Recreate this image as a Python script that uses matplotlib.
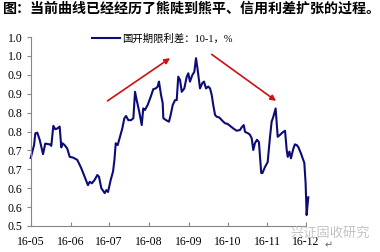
import numpy as np
import pandas as pd
import matplotlib
matplotlib.use('Agg')
import matplotlib.pyplot as plt
import matplotlib.dates as mdates


# ----------- DATA -----------
# days since 2016-05-01 and the 10y-1y CDB term spread (%)
start = '2016-05-01'
days = [0, 2.6, 3.6, 5.1, 7.0, 9.6, 11.3, 14.8, 16.0, 17.6, 19.1, 20.7, 22.5, 23.8, 24.6,
        26.4, 28.4, 30.3, 32.9, 36.2, 39.3, 42.0, 44.5, 45.9, 47.6, 49.7, 51.8, 53.1, 54.9,
        57.5, 58.8, 60.1, 62.2, 64.0, 65.1, 66.1, 67.6, 69.4, 71.2, 72.8, 74.1, 75.9, 78.0,
        79.8, 81.1, 82.4, 84.4, 86.3, 87.5, 88.8, 90.9, 93.3, 95.3, 97.2, 98.7, 99.7, 101.3,
        102.6, 103.1, 105.7, 107.5, 108.8, 110.4, 112.2, 113.5, 114.7, 116.1, 117.4, 119.4,
        121.3, 122.5, 123.8, 125.6, 127.2, 128.5, 129.8, 131.6, 133.4, 134.7, 136.3, 138.0,
        139.4, 140.7, 141.9, 143.3, 144.6, 146.6, 148.5, 149.7, 151.0, 153.1, 154.9, 157.5,
        160.1, 162.7, 164.0, 165.6, 166.6, 167.9, 169.1, 170.5, 171.8, 173.0, 174.3, 175.9,
        177.4, 179.2, 180.1, 182.1, 184.2, 186.0, 187.3, 188.6, 190.4, 192.0, 193.8, 195.6,
        197.7, 199.0, 199.8, 201.1, 202.3, 204.1, 205.4, 206.8, 208.0, 210.1, 211.4, 212.7,
        213.7, 214.5, 215.3, 215.8]
spread = [0.680, 0.714, 0.745, 0.747, 0.728, 0.690, 0.718, 0.716, 0.712, 0.765, 0.756, 0.758,
          0.763, 0.708, 0.719, 0.714, 0.705, 0.683, 0.681, 0.675, 0.653, 0.630, 0.608, 0.617,
          0.613, 0.622, 0.635, 0.630, 0.600, 0.587, 0.595, 0.590, 0.622, 0.644, 0.675, 0.719,
          0.714, 0.736, 0.758, 0.785, 0.791, 0.780, 0.780, 0.785, 0.855, 0.833, 0.802, 0.767,
          0.811, 0.807, 0.820, 0.842, 0.862, 0.864, 0.869, 0.882, 0.847, 0.825, 0.785, 0.779,
          0.776, 0.794, 0.820, 0.833, 0.833, 0.895, 0.886, 0.855, 0.864, 0.895, 0.904, 0.882,
          0.899, 0.908, 0.944, 0.913, 0.864, 0.878, 0.882, 0.864, 0.869, 0.864, 0.847, 0.820,
          0.794, 0.789, 0.787, 0.780, 0.776, 0.772, 0.770, 0.765, 0.758, 0.752, 0.754, 0.761,
          0.767, 0.749, 0.747, 0.745, 0.741, 0.732, 0.701, 0.719, 0.728, 0.722, 0.640, 0.640,
          0.656, 0.669, 0.735, 0.776, 0.789, 0.811, 0.736, 0.741, 0.747, 0.752, 0.701, 0.683,
          0.697, 0.679, 0.704, 0.716, 0.714, 0.709, 0.692, 0.679, 0.667, 0.613, 0.529, 0.560,
          0.576]

y_ticks = [0.5, 0.55, 0.6, 0.65, 0.7, 0.75, 0.8, 0.85, 0.9, 0.95, 1.0]
y_labels = ['0.5', '0.6', '0.6', '0.7', '0.7', '0.8', '0.8', '0.9', '0.9', '1.0', '1.0']

# annotation arrows: (day, value) tail -> head
arrow_up = ((59.7, 0.831), (108.3, 0.944))
arrow_down = ((140.7, 0.954), (190.7, 0.831))

title = '图：当前曲线已经经历了熊陡到熊平、信用利差扩张的过程。'
series_name = '国开期限利差：10-1，%'
watermark = '兴证固收研究'


# ----------- PLOT -----------
def to_date(d):
    return pd.Timestamp(start) + pd.to_timedelta(d, unit='D')

serif = ['Liberation Serif', 'Noto Sans CJK SC', 'DejaVu Sans']
plt.rcParams['font.family'] = serif

fig = plt.figure(figsize=(3.8, 2.52), dpi=100)
ax = fig.add_axes([30.7 / 380, 1 - 226 / 252, (306 - 30.7) / 380, (226 - 37) / 252])

x = to_date(np.array(days))
ax.plot(x, spread, color='#0c0c78', lw=1.5, clip_on=False, label=series_name)

ax.set_xlim(to_date(0), to_date(214))
ax.set_ylim(0.5, 1.0)
ax.xaxis.set_major_locator(mdates.MonthLocator())
ax.xaxis.set_major_formatter(mdates.DateFormatter('%y-%m'))
ax.set_yticks(y_ticks)
ax.set_yticklabels(y_labels)

for s in ['top', 'right']:
    ax.spines[s].set_visible(False)
for s in ['left', 'bottom']:
    ax.spines[s].set_color('#868686')
    ax.spines[s].set_linewidth(0.8)
ax.tick_params(axis='x', direction='in', length=3, color='#868686', labelsize=8.5, pad=7,
               labelfontfamily='Liberation Serif')
ax.tick_params(axis='y', direction='out', length=3, color='#868686', labelsize=8.5, pad=3,
               labelfontfamily='Liberation Serif')

for tail, head in [arrow_up, arrow_down]:
    ax.annotate('', xy=(to_date(head[0]), head[1]), xytext=(to_date(tail[0]), tail[1]),
                arrowprops=dict(arrowstyle='-|>', color='#d01010', lw=1.2,
                                mutation_scale=8, shrinkA=0, shrinkB=0),
                annotation_clip=False)

ax.legend(loc='upper left', bbox_to_anchor=(92 / 380, 1 - 34 / 252),
          bbox_transform=fig.transFigure, frameon=False,
          handlelength=2.7, handletextpad=0.2, borderpad=0, borderaxespad=0,
          prop={'family': serif, 'size': 7.5})

fig.text(3 / 380, 1 - 9 / 252, title, fontsize=10.1, fontweight='bold',
         family=['Noto Sans CJK SC'], va='center', ha='left')
fig.text(290 / 380, 1 - 233 / 252, watermark, fontsize=9.5, color='#c4c4c4',
         family=['Noto Sans CJK SC'], va='center', ha='left')
fig.text(325 / 380, 1 - 245 / 252, '↵', fontsize=7, color='#666666',
         family=['DejaVu Sans'], va='center', ha='left')

fig.savefig('out.png', dpi=100)
